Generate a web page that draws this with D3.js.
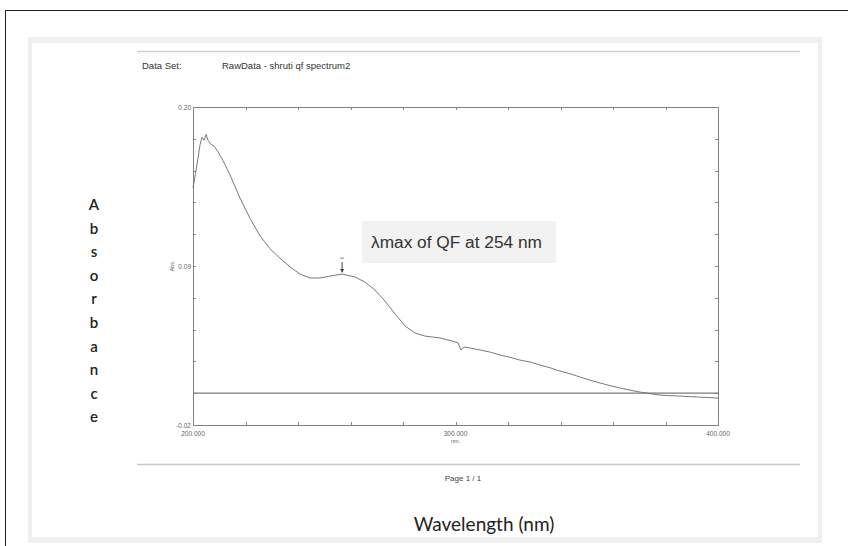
<!DOCTYPE html>
<html><head><meta charset="utf-8">
<script src="https://cdn.jsdelivr.net/npm/d3@7"></script>
<style>body{margin:0;background:#fff}svg{display:block}</style>
</head><body>
<script>
// Data (wavelength nm, absorbance)
const wavelengths = [200.0,201.5,202.7,203.4,204.2,205.0,205.7,206.9,208.0,209.5,211.4,214.1,217.9,221.7,225.5,229.3,233.1,237.0,240.8,244.6,248.4,252.2,256.8,261.7,265.5,269.3,273.1,277.0,280.8,284.6,288.4,294.1,298.7,301.0,302.1,303.2,305.5,309.3,313.0,317.0,320.8,324.6,328.4,332.2,336.0,339.8,343.6,347.4,351.2,355.0,358.9,362.7,366.5,370.3,374.1,377.9,381.7,385.5,389.3,393.1,396.5,400.0];
const absorbance  = [0.144,0.160,0.174,0.179,0.177,0.181,0.177,0.174,0.173,0.169,0.163,0.153,0.137,0.123,0.111,0.102,0.0955,0.0893,0.0844,0.0817,0.0817,0.083,0.0844,0.0824,0.0789,0.0734,0.0658,0.0568,0.0485,0.0436,0.0415,0.0402,0.0381,0.0367,0.0319,0.034,0.0333,0.0319,0.0305,0.0284,0.0268,0.0249,0.0236,0.0215,0.0196,0.0173,0.0155,0.0132,0.0110,0.0091,0.0072,0.0056,0.0041,0.0028,0.0017,0.0007,0.0003,0.0000,-0.0004,-0.0007,-0.0010,-0.0014];
const baselineValue = 0.002;
const yTickValues = [0.20, 0.09, -0.02];
const yTickLabels = ["0.20", "0.09", "-0.02"];
const xTickValues = [200, 300, 400];
const xTickLabels = ["200.000", "300.000", "400.000"];
const peakWavelength = 256.8;
const annotation = "λmax of QF at 254 nm";
const datasetLabel = "Data Set:";
const datasetName = "RawData - shruti qf spectrum2";

const W = 848, H = 546;
const svg = d3.select("body").append("svg").attr("width", W).attr("height", H);

// outer border
svg.append("line").attr("x1",5).attr("y1",10.5).attr("x2",W).attr("y2",10.5).attr("stroke","#222").attr("stroke-width",1);
svg.append("line").attr("x1",5.5).attr("y1",10).attr("x2",5.5).attr("y2",H).attr("stroke","#222").attr("stroke-width",1);
// gray frame
svg.append("rect").attr("x",28).attr("y",37).attr("width",794).attr("height",506).attr("fill","#efefef");
svg.append("rect").attr("x",32).attr("y",43).attr("width",786).attr("height",494).attr("fill","#fff");

// header
svg.append("line").attr("x1",137).attr("x2",800).attr("y1",51.5).attr("y2",51.5).attr("stroke","#d0d0d0").attr("stroke-width",1.5);
svg.append("text").attr("x",142).attr("y",69).text(datasetLabel).attr("font-family","Liberation Sans, Arial").attr("font-size",9.5).attr("fill","#333");
svg.append("text").attr("x",222).attr("y",69).text(datasetName).attr("font-family","Liberation Sans, Arial").attr("font-size",9.5).attr("fill","#333");

// footer
svg.append("line").attr("x1",137).attr("x2",800).attr("y1",464.5).attr("y2",464.5).attr("stroke","#c8c8c8").attr("stroke-width",1.5);
svg.append("text").attr("x",463).attr("y",481).attr("text-anchor","middle").text("Page 1 / 1").attr("font-family","Liberation Sans, Arial").attr("font-size",8).attr("fill","#444");

// plot
const pL = 193, pR = 718, pT = 107, pB = 425;
const x = d3.scaleLinear().domain([200,400]).range([pL,pR]);
const y = d3.scaleLinear().domain([-0.02,0.20]).range([pB,pT]);

const g = svg.append("g");
g.append("rect").attr("x",pL+0.5).attr("y",pT+0.5).attr("width",pR-pL).attr("height",pB-pT).attr("fill","none").attr("stroke","#808080").attr("stroke-width",1);

// minor ticks
const xMinor = d3.range(200, 401, 20);
const yMinor = d3.range(0, 11).map(i => -0.02 + i*0.022);
const tickStyle = s => s.attr("stroke","#888").attr("stroke-width",1);
xMinor.forEach(v => {
  tickStyle(g.append("line").attr("x1",Math.round(x(v))+0.5).attr("x2",Math.round(x(v))+0.5).attr("y1",pT).attr("y2",pT+3));
  tickStyle(g.append("line").attr("x1",Math.round(x(v))+0.5).attr("x2",Math.round(x(v))+0.5).attr("y1",pB-3).attr("y2",pB));
});
yMinor.forEach(v => {
  tickStyle(g.append("line").attr("y1",Math.round(y(v))+0.5).attr("y2",Math.round(y(v))+0.5).attr("x1",pL).attr("x2",pL+3));
  tickStyle(g.append("line").attr("y1",Math.round(y(v))+0.5).attr("y2",Math.round(y(v))+0.5).attr("x1",pR-3).attr("x2",pR));
});

// axis labels
const lf = "Liberation Sans, Arial";
yTickValues.forEach((v,i) => {
  g.append("text").attr("x",pL-2).attr("y",y(v)+2.5).attr("text-anchor","end").text(yTickLabels[i]).attr("font-family",lf).attr("font-size",6.5).attr("fill","#666");
});
xTickValues.forEach((v,i) => {
  g.append("text").attr("x",x(v)).attr("y",pB+11).attr("text-anchor","middle").text(xTickLabels[i]).attr("font-family",lf).attr("font-size",6.5).attr("fill","#666");
});
g.append("text").attr("x",x(300)).attr("y",pB+18).attr("text-anchor","middle").text("nm.").attr("font-family",lf).attr("font-size",5.5).attr("fill","#666");
g.append("text").attr("transform",`translate(174,${y(0.09)}) rotate(-90)`).attr("text-anchor","middle").text("Abs.").attr("font-family",lf).attr("font-size",5.5).attr("fill","#666");

// baseline
g.append("line").attr("x1",pL).attr("x2",pR).attr("y1",y(baselineValue)).attr("y2",y(baselineValue)).attr("stroke","#7a7a7a").attr("stroke-width",1.3);

// curve
const pts = wavelengths.map((w,i)=>[w,absorbance[i]]);
g.append("path").datum(pts).attr("d", d3.line().x(d=>x(d[0])).y(d=>y(d[1])).curve(d3.curveLinear))
 .attr("fill","none").attr("stroke","#6a6a6a").attr("stroke-width",0.9);

// peak marker
const px = x(peakWavelength), pyv = y(0.0844);
g.append("line").attr("x1",px).attr("x2",px).attr("y1",pyv-12).attr("y2",pyv-3).attr("stroke","#444").attr("stroke-width",1);
g.append("path").attr("d",`M${px-2},${pyv-5} L${px+2},${pyv-5} L${px},${pyv-1} Z`).attr("fill","#444");
g.append("line").attr("x1",px-2).attr("x2",px+2).attr("y1",pyv-16).attr("y2",pyv-16).attr("stroke","#666").attr("stroke-width",0.8);

// annotation
svg.append("rect").attr("x",362).attr("y",221).attr("width",194).attr("height",42).attr("fill","#f2f2f2");
svg.append("text").attr("x",371).attr("y",248).text(annotation).attr("font-family",lf).attr("font-size",17.3).attr("fill","#333");

// side labels
const letters = "Absorbance".split("");
letters.forEach((c,i)=>{
  svg.append("text").attr("x",94).attr("y",210+i*23.6).attr("text-anchor","middle").text(c)
    .attr("font-family","Lato, Open Sans").attr("font-size",15).attr("font-weight",600).attr("fill","#222");
});
svg.append("text").attr("x",484).attr("y",531).attr("text-anchor","middle").text("Wavelength (nm)")
  .attr("font-family","Lato, Open Sans").attr("font-size",19).attr("fill","#222");
</script>
</body></html>
